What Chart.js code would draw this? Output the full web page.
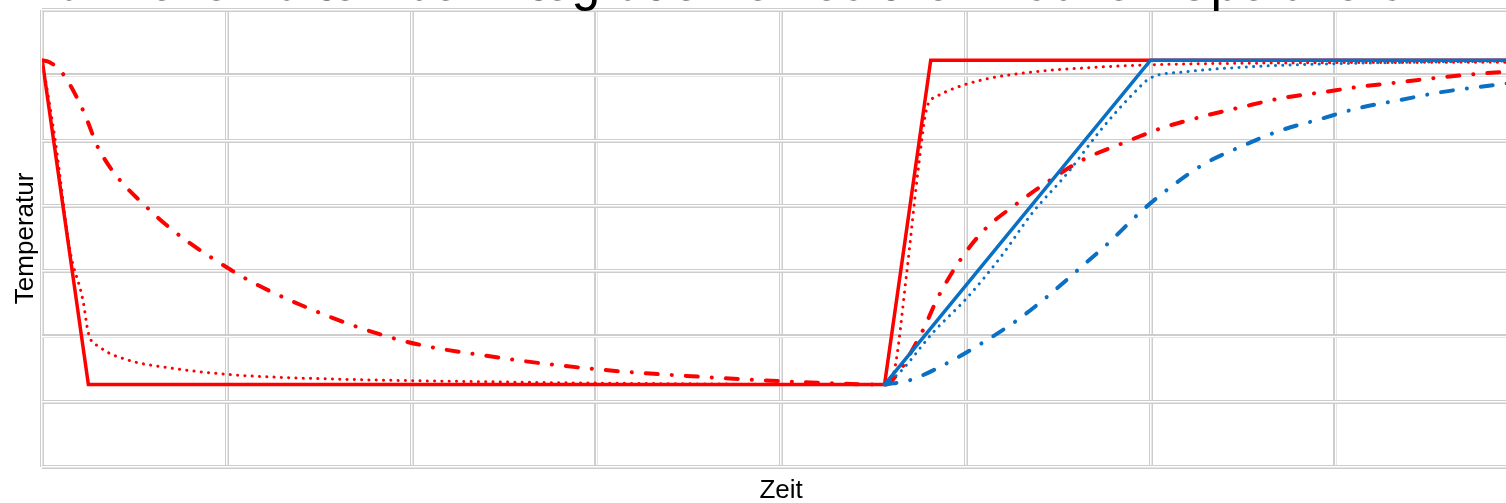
<!DOCTYPE html>
<html>
<head>
<meta charset="utf-8">
<script src="https://cdn.jsdelivr.net/npm/chart.js@4/dist/chart.umd.min.js"></script>
<style>
  html, body { margin: 0; padding: 0; background: #fff; overflow: hidden; }
  #wrap { position: absolute; left: 0; top: -42px; width: 1540px; height: 548px; }
</style>
</head>
<body>
<div id="wrap"><canvas id="mychart"></canvas></div>
<script>
// Achsen (Zeit 0..8, Temperatur 0..7, ohne Beschriftung)
const xTicks = [0, 1, 2, 3, 4, 5, 6, 7, 8];
const yTicks = [0, 1, 2, 3, 4, 5, 6, 7];

// rot durchgezogen
const redSolidX = [0, 0.25, 4.56, 4.81, 8];
const redSolidY = [6.23, 1.26, 1.26, 6.23, 6.23];

// blau durchgezogen
const blueSolidX = [4.56, 6.0, 8];
const blueSolidY = [1.26, 6.23, 6.23];

// rot gepunktet
const redDotX = [0, 0.07, 0.15, 0.22, 0.25, 0.31, 0.46, 0.68, 1.03, 1.40, 2.48, 3.56, 4.56,
                 4.61, 4.68, 4.74, 4.79, 4.84, 4.91, 5.09, 5.36, 5.63, 6.0, 6.81, 8];
const redDotY = [6.23, 5.01, 3.32, 2.56, 2.05, 1.84, 1.64, 1.52, 1.41, 1.36, 1.30, 1.27, 1.26,
                 1.44, 2.97, 4.50, 5.51, 5.67, 5.77, 5.93, 6.05, 6.11, 6.16, 6.19, 6.20];

// rot strichpunktiert
const redDashX = [0, 0.04, 0.11, 0.22, 0.31, 0.58, 1.02, 1.40, 1.94, 2.48, 3.02, 3.56, 4.10, 4.56,
                  4.59, 4.76, 4.85, 4.97, 5.10, 5.28, 5.46, 5.63, 5.85, 6.06, 6.27, 6.49, 6.71,
                  6.93, 7.15, 7.37, 7.58, 7.91, 8];
const redDashY = [6.23, 6.20, 6.03, 5.47, 4.85, 3.94, 3.02, 2.48, 1.94, 1.67, 1.49, 1.38, 1.30, 1.26,
                  1.29, 2.05, 2.60, 3.17, 3.63, 4.04, 4.40, 4.70, 4.96, 5.19, 5.36, 5.51, 5.65,
                  5.74, 5.83, 5.90, 5.97, 6.05, 6.06];

// blau gepunktet
const blueDotX = [4.56, 4.64, 4.82, 5.01, 5.19, 5.36, 5.55, 5.73, 5.91, 6.0, 6.18, 6.54, 6.90, 7.44, 8];
const blueDotY = [1.26, 1.44, 2.05, 2.60, 3.22, 3.89, 4.50, 5.16, 5.73, 5.96, 6.05, 6.13, 6.17, 6.20, 6.22];

// blau strichpunktiert
const blueDashX = [4.56, 4.70, 4.90, 5.09, 5.28, 5.45, 5.62, 5.78, 5.94, 6.11, 6.29, 6.50, 6.70,
                   6.92, 7.13, 7.35, 7.57, 7.78, 8];
const blueDashY = [1.26, 1.33, 1.59, 1.90, 2.25, 2.63, 3.05, 3.45, 3.89, 4.29, 4.64, 4.92, 5.15,
                   5.33, 5.50, 5.62, 5.74, 5.82, 5.90];

const RED = '#ff0000';
const BLUE = '#0a70c4';

function pts(xs, ys) {
    return xs.map((x, i) => ({ x: x, y: ys[i] }));
}

function solid(xs, ys, color) {
    return {
        data: pts(xs, ys), borderColor: color, borderWidth: 3.5,
        tension: 0, pointRadius: 0, fill: false
    };
}
function dotted(xs, ys, color) {
    return {
        data: pts(xs, ys), borderColor: color, borderWidth: 3,
        borderDash: [0.1, 7.2], borderCapStyle: 'round',
        cubicInterpolationMode: 'monotone', pointRadius: 0, fill: false
    };
}
function dashDot(xs, ys, color) {
    return {
        data: pts(xs, ys), borderColor: color, borderWidth: 4,
        borderDash: [12, 14, 0.1, 14], borderCapStyle: 'round',
        cubicInterpolationMode: 'monotone', pointRadius: 0, fill: false
    };
}

const gridOuter = { color: '#cdcdcd', lineWidth: 4, drawTicks: false };
const gridInner = { color: '#ffffff', lineWidth: 1.5, drawTicks: false };
const axisFont = { family: 'Liberation Sans, Arial, sans-serif', size: 26 };

const options = {
    type: 'line',
    data: {
        datasets: [
            dashDot(blueDashX, blueDashY, BLUE),
            dotted(blueDotX, blueDotY, BLUE),
            solid(blueSolidX, blueSolidY, BLUE),
            dashDot(redDashX, redDashY, RED),
            dotted(redDotX, redDotY, RED),
            solid(redSolidX, redSolidY, RED)
        ]
    },
    options: {
        responsive: true,
        maintainAspectRatio: false,
        animation: false,
        layout: { padding: { left: 10, right: 20, top: 0, bottom: 0 } },
        plugins: {
            legend: { display: false },
            tooltip: { enabled: false },
            title: {
                display: true,
                text: 'Wärmeverhalten bei Integration eines thermischen Speichers        ',
                color: '#000',
                font: { family: 'Liberation Sans, Arial, sans-serif', size: 53.5, weight: 'normal', lineHeight: 1.0 },
                padding: { top: 0, bottom: -1.5 }
            }
        },
        scales: {
            x: {
                type: 'linear', min: 0, max: 8,
                afterBuildTicks: (s) => { s.ticks = xTicks.map(v => ({ value: v })); },
                ticks: { display: false },
                grid: gridOuter,
                border: { display: false },
                title: { display: true, text: 'Zeit', color: '#000', font: axisFont, padding: { top: 8, bottom: 0 } }
            },
            x2: {
                type: 'linear', position: 'bottom', min: 0, max: 8,
                afterBuildTicks: (s) => { s.ticks = xTicks.map(v => ({ value: v })); },
                ticks: { display: false },
                grid: gridInner,
                border: { display: false }
            },
            y: {
                type: 'linear', min: 0, max: 7,
                afterBuildTicks: (s) => { s.ticks = yTicks.map(v => ({ value: v })); },
                ticks: { display: false },
                grid: gridOuter,
                border: { display: false },
                title: { display: true, text: 'Temperatur', color: '#000', font: axisFont, padding: { top: 0, bottom: 1 } }
            },
            y2: {
                type: 'linear', position: 'left', min: 0, max: 7,
                afterBuildTicks: (s) => { s.ticks = yTicks.map(v => ({ value: v })); },
                ticks: { display: false },
                grid: gridInner,
                border: { display: false }
            }
        }
    }
};

const ctx = document.getElementById('mychart').getContext('2d');
const chart = new Chart(ctx, options);
</script>
</body>
</html>
